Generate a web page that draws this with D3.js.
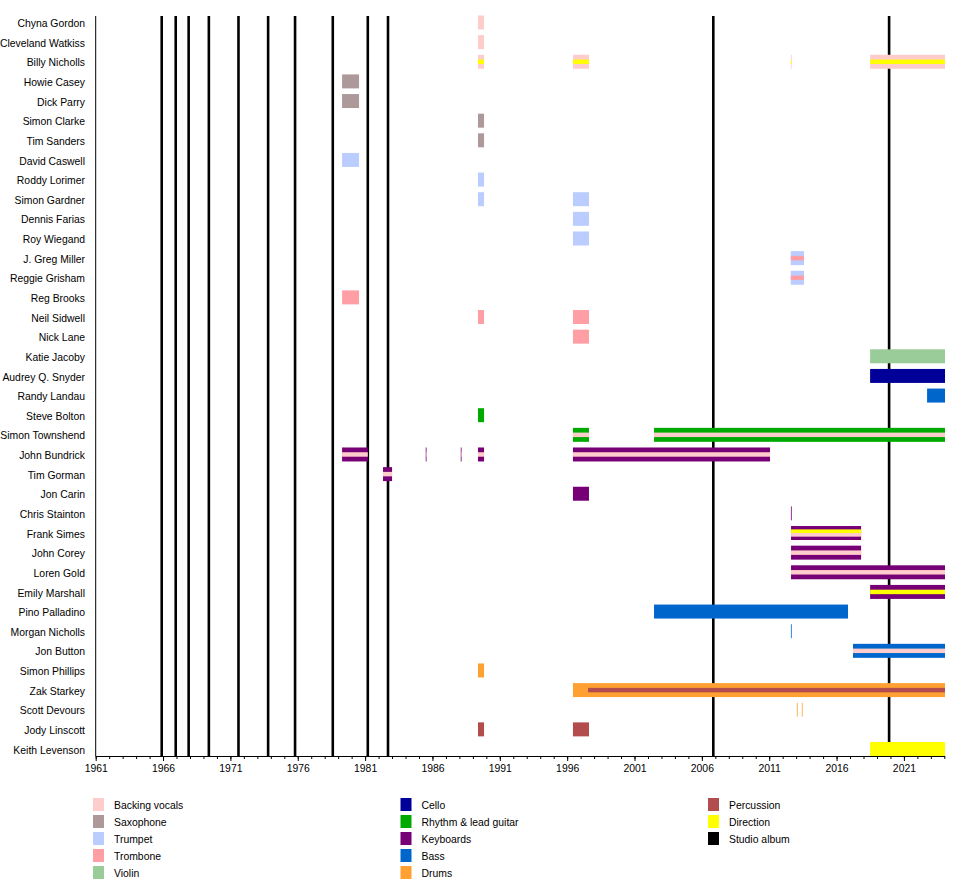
<!DOCTYPE html>
<html>
<head>
<meta charset="utf-8">
<script src="https://cdn.jsdelivr.net/npm/d3@7"></script>
<style>
  body { margin: 0; background: #fff; }
  text { font-family: "Liberation Sans", Arial, sans-serif; }
</style>
</head>
<body>
<svg width="960" height="880"></svg>
<script>
// Timeline end (early 2024)
const END = 2024.05;

// Band members, top to bottom
const members = [
  "Chyna Gordon", "Cleveland Watkiss", "Billy Nicholls", "Howie Casey", "Dick Parry",
  "Simon Clarke", "Tim Sanders", "David Caswell", "Roddy Lorimer", "Simon Gardner",
  "Dennis Farias", "Roy Wiegand", "J. Greg Miller", "Reggie Grisham", "Reg Brooks",
  "Neil Sidwell", "Nick Lane", "Katie Jacoby", "Audrey Q. Snyder", "Randy Landau",
  "Steve Bolton", "Simon Townshend", "John Bundrick", "Tim Gorman", "Jon Carin",
  "Chris Stainton", "Frank Simes", "John Corey", "Loren Gold", "Emily Marshall",
  "Pino Palladino", "Morgan Nicholls", "Jon Button", "Simon Phillips", "Zak Starkey",
  "Scott Devours", "Jody Linscott", "Keith Levenson"
];

// Legend entries (three columns)
const roles = [
  "Backing vocals", "Saxophone", "Trumpet", "Trombone", "Violin",
  "Cello", "Rhythm & lead guitar", "Keyboards", "Bass", "Drums",
  "Percussion", "Direction", "Studio album"
];

// Studio album release dates (decimal years)
const albums = [1965.9, 1966.94, 1967.9, 1969.4, 1971.6, 1973.8, 1975.8, 1978.6,
                1981.2, 1982.7, 2006.85, 2019.9];

// Periods: [member, start, end, main role, extra roles drawn as stripes]
const periods = [
  ["Chyna Gordon", 1989.38, 1989.83, "Backing vocals"],
  ["Cleveland Watkiss", 1989.38, 1989.83, "Backing vocals"],
  ["Billy Nicholls", 1989.38, 1989.83, "Backing vocals", ["Direction"]],
  ["Billy Nicholls", 1996.43, 1997.62, "Backing vocals", ["Direction"]],
  ["Billy Nicholls", 2012.61, 2012.66, "Backing vocals", ["Direction"]],
  ["Billy Nicholls", 2018.49, END, "Backing vocals", ["Direction"]],
  ["Howie Casey", 1979.29, 1980.55, "Saxophone"],
  ["Dick Parry", 1979.29, 1980.55, "Saxophone"],
  ["Simon Clarke", 1989.38, 1989.83, "Saxophone"],
  ["Tim Sanders", 1989.38, 1989.83, "Saxophone"],
  ["David Caswell", 1979.29, 1980.55, "Trumpet"],
  ["Roddy Lorimer", 1989.38, 1989.83, "Trumpet"],
  ["Simon Gardner", 1989.38, 1989.83, "Trumpet"],
  ["Simon Gardner", 1996.43, 1997.62, "Trumpet"],
  ["Dennis Farias", 1996.43, 1997.62, "Trumpet"],
  ["Roy Wiegand", 1996.43, 1997.62, "Trumpet"],
  ["J. Greg Miller", 2012.6, 2013.58, "Trumpet", ["Trombone"]],
  ["Reggie Grisham", 2012.6, 2013.58, "Trumpet", ["Trombone"]],
  ["Reg Brooks", 1979.29, 1980.55, "Trombone"],
  ["Neil Sidwell", 1989.38, 1989.83, "Trombone"],
  ["Neil Sidwell", 1996.43, 1997.62, "Trombone"],
  ["Nick Lane", 1996.43, 1997.62, "Trombone"],
  ["Katie Jacoby", 2018.49, END, "Violin"],
  ["Audrey Q. Snyder", 2018.49, END, "Cello"],
  ["Randy Landau", 2022.72, END, "Bass"],
  ["Steve Bolton", 1989.38, 1989.83, "Rhythm & lead guitar"],
  ["Simon Townshend", 1996.43, 1997.62, "Rhythm & lead guitar", ["Backing vocals"]],
  ["Simon Townshend", 2002.45, END, "Rhythm & lead guitar", ["Backing vocals"]],
  ["John Bundrick", 1979.29, 1981.2, "Keyboards", ["Backing vocals"]],
  ["John Bundrick", 1985.5, 1985.56, "Keyboards", ["Backing vocals"]],
  ["John Bundrick", 1988.1, 1988.16, "Keyboards", ["Backing vocals"]],
  ["John Bundrick", 1989.38, 1989.83, "Keyboards", ["Backing vocals"]],
  ["John Bundrick", 1996.43, 2011.06, "Keyboards", ["Backing vocals"]],
  ["Tim Gorman", 1982.33, 1983.0, "Keyboards", ["Backing vocals"]],
  ["Jon Carin", 1996.43, 1997.62, "Keyboards"],
  ["Chris Stainton", 2012.61, 2012.67, "Keyboards"],
  ["Frank Simes", 2012.62, 2017.82, "Keyboards", ["Direction", "Backing vocals"]],
  ["John Corey", 2012.62, 2017.82, "Keyboards", ["Backing vocals"]],
  ["Loren Gold", 2012.62, END, "Keyboards", ["Backing vocals"]],
  ["Emily Marshall", 2018.49, END, "Keyboards", ["Direction"]],
  ["Pino Palladino", 2002.45, 2016.85, "Bass"],
  ["Morgan Nicholls", 2012.61, 2012.67, "Bass"],
  ["Jon Button", 2017.22, END, "Bass", ["Backing vocals"]],
  ["Simon Phillips", 1989.38, 1989.83, "Drums"],
  ["Zak Starkey", 1996.43, 1997.55, "Drums"],
  ["Zak Starkey", 1997.55, END, "Drums", ["Percussion"]],
  ["Scott Devours", 2013.05, 2013.11, "Drums"],
  ["Scott Devours", 2013.42, 2013.48, "Drums"],
  ["Jody Linscott", 1989.38, 1989.83, "Percussion"],
  ["Jody Linscott", 1996.43, 1997.62, "Percussion"],
  ["Keith Levenson", 2018.49, END, "Direction"]
];

const colors = {
  "Backing vocals": "#ffcccc",
  "Saxophone": "#ad9999",
  "Trumpet": "#bbccff",
  "Trombone": "#ff9fa5",
  "Violin": "#99cc99",
  "Cello": "#000099",
  "Rhythm & lead guitar": "#00aa00",
  "Keyboards": "#770077",
  "Bass": "#0066cc",
  "Drums": "#ffa033",
  "Percussion": "#b34d4d",
  "Direction": "#ffff00",
  "Studio album": "#000000"
};

const svg = d3.select("svg");
const plot = {left: 95.7, right: 945, top: 15.5, bottom: 756};

const x = d3.scaleLinear()
    .domain([1961, END])
    .range([plot.left, plot.right]);

const y = d3.scaleBand()
    .domain(members)
    .range([plot.top, plot.bottom])
    .paddingInner(0.2875)
    .paddingOuter(0);

// Studio album lines (behind bars)
svg.append("g").selectAll("line")
    .data(albums)
    .join("line")
    .attr("x1", d => x(d)).attr("x2", d => x(d))
    .attr("y1", 16).attr("y2", plot.bottom)
    .attr("stroke", colors["Studio album"])
    .attr("stroke-width", 2.6);

// Bars
const bw = y.bandwidth();
const bars = svg.append("g");
periods.forEach(([name, start, end, role, extra]) => {
  const x0 = x(start), w = Math.max(x(end) - x(start), 0.8);
  bars.append("rect")
      .attr("x", x0).attr("y", y(name))
      .attr("width", w).attr("height", bw)
      .attr("fill", colors[role]);
  if (extra) {
    const sh = extra.length === 1 ? bw * 0.32 : bw * 0.26;
    const total = sh * extra.length;
    extra.forEach((r, i) => {
      bars.append("rect")
          .attr("x", x0).attr("y", y(name) + (bw - total) / 2 + i * sh)
          .attr("width", w).attr("height", sh)
          .attr("fill", colors[r]);
    });
  }
});

// Left edge line
svg.append("line")
    .attr("x1", plot.left).attr("x2", plot.left)
    .attr("y1", 16).attr("y2", plot.bottom)
    .attr("stroke", "#000").attr("stroke-width", 1);

// Member labels
svg.append("g").selectAll("text")
    .data(members)
    .join("text")
    .attr("x", 85)
    .attr("y", d => y(d) + bw / 2 + 1)
    .attr("dy", "0.35em")
    .attr("text-anchor", "end")
    .attr("font-size", "10.4px")
    .attr("fill", "#000")
    .text(d => d);

// Bottom axis: major ticks every 5 years, minor every year
const majorTicks = d3.range(1961, 2022, 5);
const minorTicks = d3.range(1961, 2025);

const axisG = svg.append("g").attr("transform", `translate(0,${plot.bottom})`);
axisG.call(d3.axisBottom(x).tickValues(minorTicks).tickSize(3).tickFormat(""))
    .call(g => g.select(".domain").remove());
axisG.append("g")
    .call(d3.axisBottom(x).tickValues(majorTicks).tickSize(5).tickPadding(4).tickFormat(d3.format("d")))
    .call(g => g.select(".domain").attr("d", `M${plot.left},0.5H${plot.right}`))
    .call(g => g.selectAll("text").attr("font-size", "10.4px")
        .attr("font-family", "'Liberation Sans', Arial, sans-serif").attr("fill", "#000"));
axisG.selectAll("line").attr("stroke", "#000");

// Legend
const legend = svg.append("g");
roles.forEach((r, i) => {
  const col = Math.floor(i / 5), row = i % 5;
  const gx = 93 + col * 307.5, gy = 805 + row * 17;
  legend.append("rect")
      .attr("x", gx).attr("y", gy - 7)
      .attr("width", 11).attr("height", 13)
      .attr("fill", colors[r]);
  legend.append("text")
      .attr("x", gx + 21).attr("y", gy)
      .attr("dy", "0.35em")
      .attr("font-size", "10.4px")
      .text(r);
});
</script>
</body>
</html>
